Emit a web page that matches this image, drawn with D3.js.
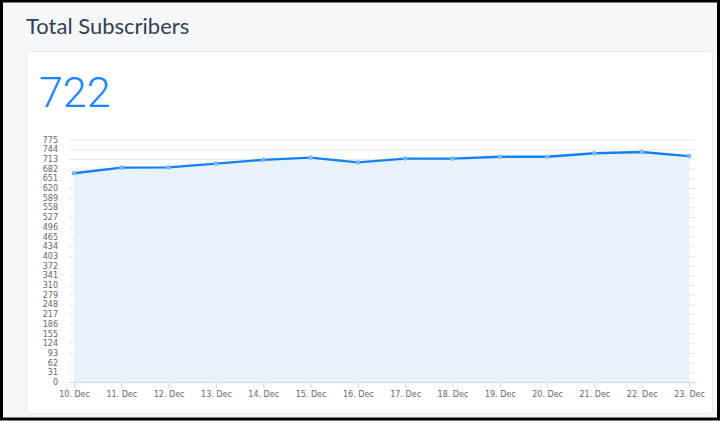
<!DOCTYPE html>
<html>
<head>
<meta charset="utf-8">
<script src="https://cdn.jsdelivr.net/npm/d3@7"></script>
<style>
  html, body { margin: 0; padding: 0; }
  body { width: 720px; height: 421px; overflow: hidden; }
</style>
</head>
<body>
<svg id="chart" width="720" height="421"></svg>
<script>
// data
const days = ['10. Dec', '11. Dec', '12. Dec', '13. Dec', '14. Dec', '15. Dec', '16. Dec',
              '17. Dec', '18. Dec', '19. Dec', '20. Dec', '21. Dec', '22. Dec', '23. Dec'];
const subscribers = [667, 685, 686, 698, 710, 717, 702, 714, 714, 720, 720, 731, 735, 722];
const yTicks = d3.range(0, 776, 31);
const total = 722;

const svg = d3.select('#chart');

// page frame
svg.append('rect')
    .attr('x', 1.5).attr('y', 1)
    .attr('width', 717).attr('height', 418)
    .attr('fill', '#f5f7fa')
    .attr('stroke', '#000').attr('stroke-width', 3);

svg.append('text')
    .attr('x', 26).attr('y', 34)
    .attr('font-family', 'Lato, sans-serif')
    .attr('font-size', 22)
    .attr('fill', '#34404f')
    .text('Total Subscribers');

// card
svg.append('rect')
    .attr('x', 26.5).attr('y', 51.5)
    .attr('width', 686).attr('height', 362)
    .attr('rx', 3)
    .attr('fill', '#fff')
    .attr('stroke', '#e6e9ee');

svg.append('text')
    .attr('x', 39).attr('y', 107)
    .attr('font-family', 'Roboto, sans-serif')
    .attr('font-weight', 300)
    .attr('font-size', 43)
    .attr('fill', '#1a85ff')
    .text(total);

const x = d3.scalePoint().domain(days).range([74, 689]);
const y = d3.scaleLinear().domain([0, 775]).range([382, 139.5]);

// grid lines + y labels
const yAxis = d3.axisLeft(y)
    .tickValues(yTicks)
    .tickSize(-626)
    .tickPadding(11);
const yG = svg.append('g')
    .attr('transform', 'translate(69,0)')
    .call(yAxis);
yG.select('.domain').remove();
yG.selectAll('.tick line').attr('stroke', '#e6e6e6');
yG.selectAll('.tick text')
    .attr('font-family', 'DejaVu Sans, sans-serif')
    .attr('font-size', 8)
    .attr('fill', '#666');

// area + line
const area = d3.area()
    .x((d, i) => x(days[i]))
    .y0(y(0))
    .y1(d => y(d));
svg.append('path')
    .datum(subscribers)
    .attr('d', area)
    .attr('fill', '#e8f2fa');

const line = d3.line()
    .x((d, i) => x(days[i]))
    .y(d => y(d));
svg.append('path')
    .datum(subscribers)
    .attr('d', line)
    .attr('fill', 'none')
    .attr('stroke', '#1380f0')
    .attr('stroke-width', 2.4);

svg.selectAll('circle.pt')
    .data(subscribers)
  .join('circle')
    .attr('class', 'pt')
    .attr('cx', (d, i) => x(days[i]))
    .attr('cy', d => y(d))
    .attr('r', 2.3)
    .attr('fill', '#7fb6ef');

// x axis
const xAxis = d3.axisBottom(x).tickSize(6).tickPadding(3);
const xG = svg.append('g')
    .attr('transform', `translate(0,${y(0)})`)
    .call(xAxis);
xG.select('.domain')
    .attr('d', 'M69,0.5H695')
    .attr('stroke', '#ccd6eb');
xG.selectAll('.tick line').attr('stroke', '#ccd6eb');
xG.selectAll('.tick text')
    .attr('font-family', 'DejaVu Sans, sans-serif')
    .attr('font-size', 8)
    .attr('fill', '#666');
</script>
</body>
</html>
